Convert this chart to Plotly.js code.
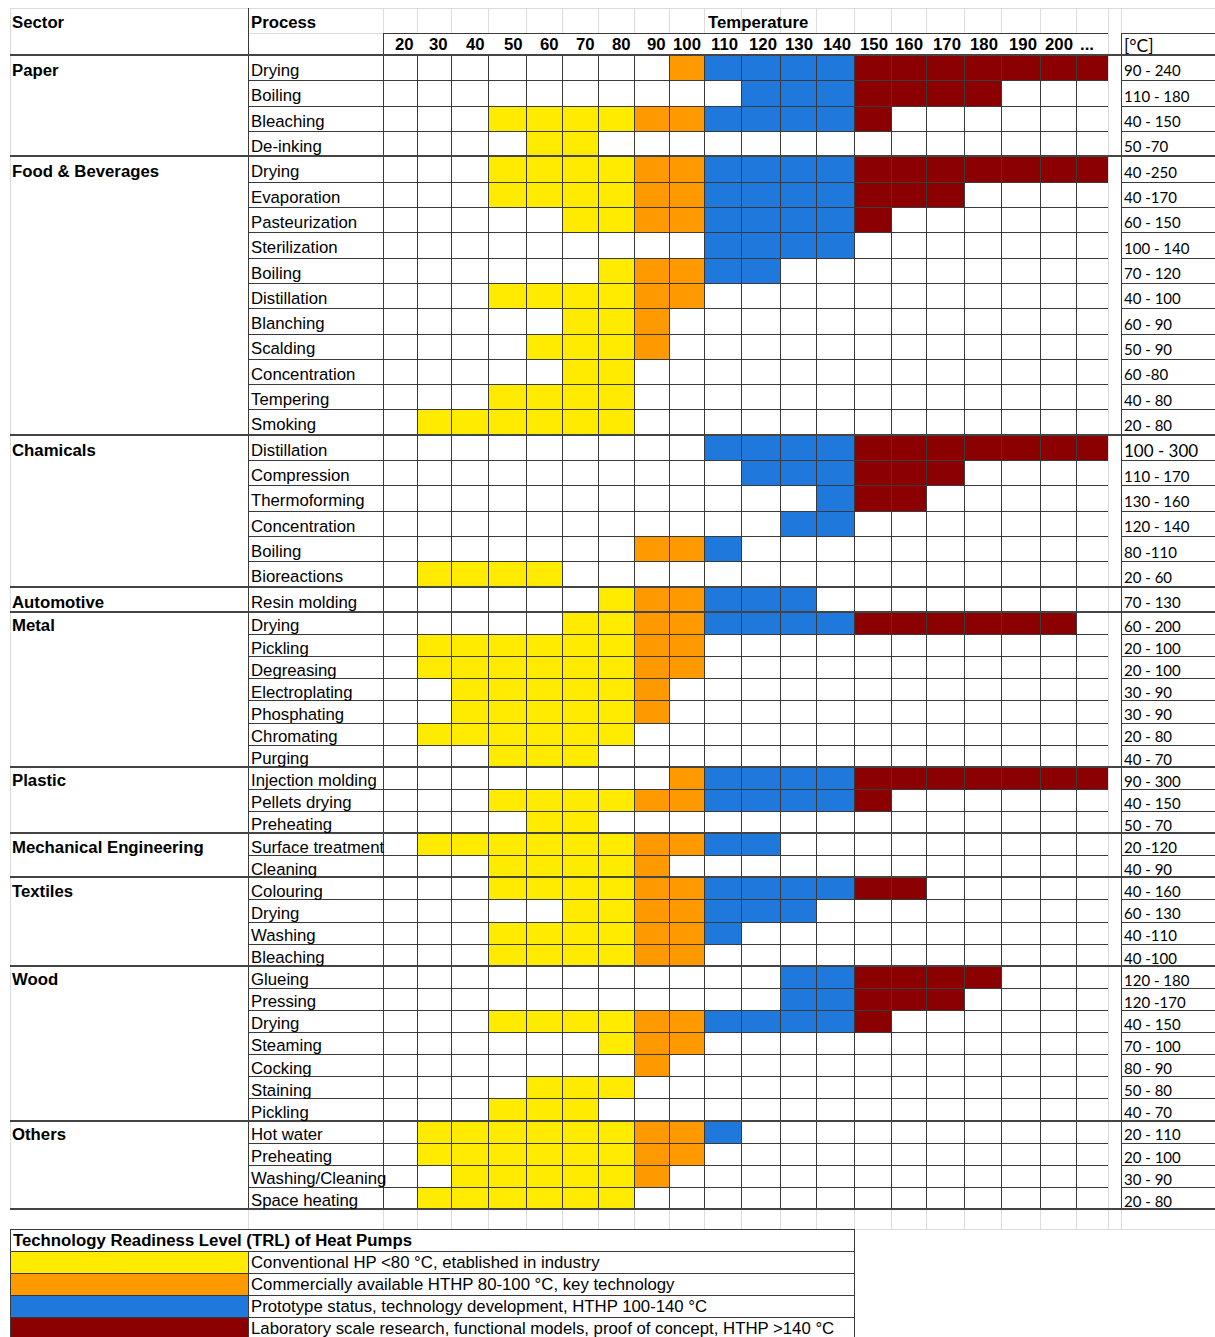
<!DOCTYPE html>
<html>
<head>
<meta charset="utf-8">
<script src="https://cdn.plot.ly/plotly-3.0.1.min.js"></script>
<style>
html,body{margin:0;padding:0;background:#ffffff;}
#chart{width:1215px;height:1337px;}
</style>
</head>
<body>
<div id="chart"></div>
<script>
// ---------------- DATA ----------------
const temps = ["20","30","40","50","60","70","80","90","100","110","120","130","140","150","160","170","180","190","200","..."];
// TRL class of each temperature column: 1 conventional, 2 commercial HTHP, 3 prototype, 4 laboratory
const tempTRL = [1,1,1,1,1,1,1,2,2,3,3,3,3,4,4,4,4,4,4,4];

const sectors = ["Paper","Food & Beverages","Chamicals","Automotive","Metal","Plastic","Mechanical Engineering","Textiles","Wood","Others"];
const sectorRowCounts = [4,11,6,1,7,3,2,4,7,4];

const processes = [
  "Drying","Boiling","Bleaching","De-inking",
  "Drying","Evaporation","Pasteurization","Sterilization","Boiling","Distillation","Blanching","Scalding","Concentration","Tempering","Smoking",
  "Distillation","Compression","Thermoforming","Concentration","Boiling","Bioreactions",
  "Resin molding",
  "Drying","Pickling","Degreasing","Electroplating","Phosphating","Chromating","Purging",
  "Injection molding","Pellets drying","Preheating",
  "Surface treatment","Cleaning",
  "Colouring","Drying","Washing","Bleaching",
  "Glueing","Pressing","Drying","Steaming","Cocking","Staining","Pickling",
  "Hot water","Preheating","Washing/Cleaning","Space heating"
];
const fromTemp = [
  "100","120","50","60",
  "50","50","70","110","80","50","70","60","70","50","30",
  "110","120","140","130","90","30",
  "80",
  "70","30","30","40","40","30","50",
  "100","50","60",
  "30","50",
  "50","70","50","50",
  "130","130","50","80","90","60","50",
  "30","30","40","30"
];
const toTemp = [
  "...","180","150","70",
  "...","170","150","140","120","100","90","90","80","80","80",
  "...","170","160","140","110","60",
  "130",
  "200","100","100","90","90","80","70",
  "...","150","70",
  "120","90",
  "160","130","110","100",
  "180","170","150","100","90","80","70",
  "110","100","90","80"
];
const rangeLabels = [
  "90 - 240","110 - 180","40 - 150","50 -70",
  "40 -250","40 -170","60 - 150","100 - 140","70 - 120","40 - 100","60 - 90","50 - 90","60 -80","40 - 80","20 - 80",
  "100 - 300","110 - 170","130 - 160","120 - 140","80 -110","20 - 60",
  "70 - 130",
  "60 - 200","20 - 100","20 - 100","30 - 90","30 - 90","20 - 80","40 - 70",
  "90 - 300","40 - 150","50 - 70",
  "20 -120","40 - 90",
  "40 - 160","60 - 130","40 -110","40 -100",
  "120 - 180","120 -170","40 - 150","70 - 100","80 - 90","50 - 80","40 - 70",
  "20 - 110","20 - 100","30 - 90","20 - 80"
];
const legendTitle = "Technology Readiness Level (TRL) of Heat Pumps";
const trlLegend = [
  "Conventional HP <80 °C, etablished in industry",
  "Commercially available HTHP 80-100 °C, key technology",
  "Prototype status, technology development, HTHP 100-140 °C",
  "Laboratory scale research, functional models, proof of concept, HTHP >140 °C"
];

// ---------------- STYLE / GEOMETRY ----------------
const W = 1215, H = 1337;
const TRL_COLORS = ["#FFEB00","#FF9900","#1F78DC","#8B0000"];
const colWidths = [34,34,37,38,36,36,36,35,35,37,39,36,38,37,35,38,37,39,36,32];
const LEFT = 10, PROC_X = 248, GRID_X = 383, RANGE_X = 1121;
const TOP = 8, HEAD2 = 33, GRID_TOP = 55;
const ROW_TALL = 25.32, ROW_SHORT = 22.11, TALL_SECTORS = 4;
const LEG_TOP = 1229, LEG_ROW = 22, LEG_RIGHT = 854;
const ARIAL = "Liberation Sans, Arial, sans-serif";
const CALIBRI = "Lato, Carlito, Calibri, sans-serif";
const FS = 16.75;       // spreadsheet text size
const TEXT_DY = 2.8;    // bottom-ish alignment of cell text
const DARK = "#3a3a3a", LIGHT = "#dcdcdc";

// column edges
const colEdges = [GRID_X];
colWidths.forEach(w => colEdges.push(colEdges[colEdges.length-1] + w));
const GRID_RIGHT = colEdges[colEdges.length-1];

// row edges
const rowEdges = [GRID_TOP];
const sectorStartRow = [];
let r = 0;
sectors.forEach((s, si) => {
  sectorStartRow.push(r);
  for (let k = 0; k < sectorRowCounts[si]; k++) {
    rowEdges.push(rowEdges[rowEdges.length-1] + (si < TALL_SECTORS ? ROW_TALL : ROW_SHORT));
    r++;
  }
});
const GRID_BOTTOM = rowEdges[rowEdges.length-1];
const rowCenter = i => (rowEdges[i] + rowEdges[i+1]) / 2;

// cell matrix
const z = processes.map((p, i) => {
  const a = temps.indexOf(fromTemp[i]), b = temps.indexOf(toTemp[i]);
  return temps.map((t, c) => (c >= a && c <= b) ? tempTRL[c] : null);
});

const cs = [];
TRL_COLORS.forEach((c, k) => { cs.push([k/4, c]); cs.push([(k+1)/4, c]); });

const heat = {
  type: "heatmap",
  x: colEdges, y: rowEdges, z: z,
  zmin: 0.5, zmax: 4.5, colorscale: cs, showscale: false,
  hoverinfo: "skip", xaxis: "x", yaxis: "y"
};

// ---------------- LINES ----------------
const shapes = [];
const px = v => Math.round(v) + 0.5;
function hline(y, x0, x1, color, width) {
  const yy = width % 2 ? px(y) : Math.round(y);
  shapes.push({type:"line", xref:"x", yref:"y", x0:x0, x1:x1, y0:yy, y1:yy, line:{color:color, width:width}, layer:"above"});
}
function vline(x, y0, y1, color, width) {
  const xx = width % 2 ? px(x) : Math.round(x);
  shapes.push({type:"line", xref:"x", yref:"y", x0:xx, x1:xx, y0:y0, y1:y1, line:{color:color, width:width}, layer:"above"});
}

// legend swatches
TRL_COLORS.forEach((c, k) => {
  shapes.push({type:"rect", xref:"x", yref:"y", x0:LEFT, x1:PROC_X, y0:LEG_TOP+LEG_ROW*(k+1), y1:LEG_TOP+LEG_ROW*(k+2),
               fillcolor:c, line:{width:0}, layer:"below"});
});

// light spreadsheet gridlines (header and blank row)
hline(TOP, LEFT, W, LIGHT, 1);
hline(HEAD2, PROC_X, GRID_X, LIGHT, 1);
colEdges.forEach(x => { vline(x, TOP, HEAD2, LIGHT, 1); vline(x, GRID_BOTTOM, LEG_TOP, LIGHT, 1); });
[GRID_X, RANGE_X].forEach(x => vline(x, GRID_BOTTOM, LEG_TOP, LIGHT, 1));
vline(PROC_X, GRID_BOTTOM, LEG_TOP, LIGHT, 1);
vline(GRID_RIGHT, TOP, GRID_BOTTOM, LIGHT, 1);
vline(RANGE_X, TOP, HEAD2, LIGHT, 1);
vline(LEFT, TOP, GRID_BOTTOM, LIGHT, 1);
hline(LEG_TOP, LEFT, W, LIGHT, 1);

// row lines inside sectors
for (let i = 1; i < processes.length; i++) {
  if (sectorStartRow.indexOf(i) >= 0) continue;
  hline(rowEdges[i], PROC_X, GRID_RIGHT, DARK, 1);
  hline(rowEdges[i], RANGE_X, W, DARK, 1);
}
// vertical column lines
colEdges.slice(0, colEdges.length-1).forEach(x => vline(x, GRID_TOP, GRID_BOTTOM, DARK, 1));
vline(GRID_X, HEAD2, GRID_BOTTOM, DARK, 1);
vline(PROC_X, TOP, GRID_BOTTOM, DARK, 1);
vline(RANGE_X, HEAD2, GRID_BOTTOM, DARK, 1);
// header box
hline(HEAD2, GRID_X, GRID_RIGHT, DARK, 1);
hline(HEAD2, RANGE_X, W, DARK, 1);
// sector boundaries
sectorStartRow.forEach(i => hline(rowEdges[i], LEFT, W, "#444444", 2));
hline(GRID_BOTTOM, LEFT, W, "#444444", 2);

// legend box
for (let k = 0; k <= 4; k++) hline(LEG_TOP + LEG_ROW*k, LEFT, LEG_RIGHT, DARK, 1);
vline(LEFT, LEG_TOP, H, DARK, 1);
vline(LEG_RIGHT, LEG_TOP, H, DARK, 1);
vline(PROC_X, LEG_TOP + LEG_ROW, H, DARK, 1);

// ---------------- TEXT ----------------
const ann = [];
function txt(x, y, text, opts) {
  opts = opts || {};
  ann.push({
    xref:"x", yref:"y", x:x, y:y, text:text, showarrow:false,
    xanchor: opts.anchor || "left", yanchor:"middle",
    font:{family: opts.family || ARIAL, size: opts.size || FS, color:"#000000", weight: opts.bold ? 700 : 400},
    borderpad:0
  });
}
txt(LEFT + 1, 22, "Sector", {bold:true});
txt(PROC_X + 2, 22, "Process", {bold:true});
txt(colEdges[temps.indexOf("110")] + 3, 22, "Temperature", {bold:true});
temps.forEach((t, c) => {
  if (t === "...") txt(colEdges[c] + 3, 44, t, {bold:true});
  else txt(colEdges[c+1] - 2, 44, t, {bold:true, anchor:"right"});
});
txt(RANGE_X + 2, 45, "[°C]", {family:CALIBRI, size:17.5});
sectors.forEach((s, si) => txt(LEFT + 1, rowCenter(sectorStartRow[si]) + TEXT_DY, s, {bold:true}));
processes.forEach((p, i) => {
  txt(PROC_X + 2, rowCenter(i) + TEXT_DY, p);
  const big = rangeLabels[i] === "100 - 300";
  txt(RANGE_X + 2, rowCenter(i) + TEXT_DY, rangeLabels[i], {family:CALIBRI, size: big ? 17 : 15});
});
txt(LEFT + 2, LEG_TOP + LEG_ROW/2, legendTitle, {bold:true});
trlLegend.forEach((t, k) => txt(PROC_X + 2, LEG_TOP + LEG_ROW*(k+1.5), t));

const layout = {
  width: W, height: H, autosize: false,
  margin: {l:0, r:0, t:0, b:0, pad:0},
  paper_bgcolor: "#ffffff", plot_bgcolor: "#ffffff",
  xaxis: {range:[0, W], visible:false, fixedrange:true},
  yaxis: {range:[H, 0], visible:false, fixedrange:true},
  showlegend: false,
  shapes: shapes,
  annotations: ann
};

Plotly.newPlot("chart", [heat], layout, {staticPlot:true, displayModeBar:false});
</script>
</body>
</html>
